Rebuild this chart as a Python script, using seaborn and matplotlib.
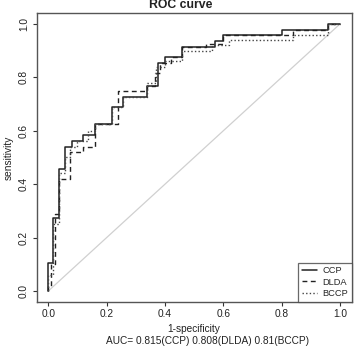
import numpy as np
import pandas as pd
import matplotlib
matplotlib.use("Agg")
import matplotlib.pyplot as plt
import seaborn as sns
from matplotlib.lines import Line2D

# ROC step corner points (false positive rate, true positive rate)
ccp_fpr = [0.0, 0.0, 0.017, 0.037, 0.057, 0.08, 0.12, 0.16, 0.217, 0.257, 0.337, 0.377, 0.40, 0.457, 0.571, 0.60, 0.80, 0.96, 1.0]
ccp_tpr = [0.0, 0.104, 0.272, 0.456, 0.54, 0.563, 0.584, 0.624, 0.688, 0.728, 0.769, 0.855, 0.875, 0.915, 0.937, 0.959, 0.978, 1.0, 1.0]

dlda_fpr = [0.0, 0.0, 0.01, 0.023, 0.037, 0.074, 0.12, 0.16, 0.24, 0.337, 0.366, 0.383, 0.42, 0.46, 0.54, 0.60, 0.84, 0.96, 1.0]
dlda_tpr = [0.0, 0.02, 0.10, 0.29, 0.42, 0.522, 0.54, 0.624, 0.749, 0.769, 0.815, 0.855, 0.875, 0.915, 0.925, 0.959, 0.978, 1.0, 1.0]

bccp_fpr = [0.0, 0.0, 0.017, 0.037, 0.057, 0.074, 0.10, 0.137, 0.16, 0.217, 0.257, 0.337, 0.37, 0.40, 0.46, 0.56, 0.62, 0.84, 0.96, 1.0]
bccp_tpr = [0.0, 0.06, 0.25, 0.44, 0.50, 0.54, 0.56, 0.60, 0.624, 0.688, 0.728, 0.78, 0.84, 0.86, 0.90, 0.92, 0.94, 0.96, 1.0, 1.0]

series_names = ["CCP", "DLDA", "BCCP"]
auc_values = ["0.815", "0.808", "0.81"]
tick_values = [0.0, 0.2, 0.4, 0.6, 0.8, 1.0]
tick_labels = ["0.0", "0.2", "0.4", "0.6", "0.8", "1.0"]

sns.set_style("ticks")
plt.rcParams["font.family"] = ["Liberation Sans", "DejaVu Sans"]

fig = plt.figure(figsize=(3.54, 3.48), dpi=100)
ax = fig.add_axes([0.1034, 0.133, 0.9935 - 0.1034, 0.962 - 0.133])

# diagonal reference
diag = pd.DataFrame({"x": [0.0, 1.0], "y": [0.0, 1.0]})
sns.lineplot(data=diag, x="x", y="y", ax=ax, color="#d0d0d0", linewidth=0.9,
             estimator=None, sort=False)

styles = {
    "CCP": dict(linestyle="-", color="#222222", linewidth=1.1),
    "DLDA": dict(linestyle=(0, (3.5, 2.5)), color="#222222", linewidth=1.0),
    "BCCP": dict(linestyle=(0, (1, 1.6)), color="#444444", linewidth=1.0),
}
data = {
    "CCP": (ccp_fpr, ccp_tpr),
    "DLDA": (dlda_fpr, dlda_tpr),
    "BCCP": (bccp_fpr, bccp_tpr),
}
for name in series_names:
    fpr, tpr = data[name]
    df = pd.DataFrame({"fpr": fpr, "tpr": tpr})
    sns.lineplot(data=df, x="fpr", y="tpr", ax=ax, estimator=None, sort=False,
                 drawstyle="steps-post", **styles[name])

ax.set_xlim(-0.04, 1.04)
ax.set_ylim(-0.04, 1.04)
ax.set_xticks(tick_values)
ax.set_xticklabels(tick_labels)
ax.set_yticks(tick_values)
ax.set_yticklabels(tick_labels, rotation=90, va="center")
ax.tick_params(axis="both", direction="out", length=3, width=0.8, color="#333333",
               labelsize=7.3, pad=2.5, labelcolor="#222222")
for sp in ax.spines.values():
    sp.set_visible(True)
    sp.set_color("#555555")
    sp.set_linewidth(1.0)

ax.set_xlabel("1-specificity", fontsize=7.3, labelpad=3, color="#222222")
ax.set_ylabel("sensitivity", fontsize=7.3, labelpad=4, color="#222222")

handles = [Line2D([], [], **styles[n]) for n in series_names]
leg = ax.legend(handles, series_names, loc="lower right", fontsize=6.7,
                frameon=True, fancybox=False, borderaxespad=0.0,
                handlelength=1.6, handletextpad=0.6, borderpad=0.4,
                labelspacing=0.25)
leg.get_frame().set_edgecolor("#444444")
leg.get_frame().set_linewidth(0.9)

fig.text(181 / 354, 1 - 8.5 / 348, "ROC curve", ha="center", va="baseline",
         fontsize=8.8, fontweight="bold", color="#222222")
auc_text = "AUC= " + " ".join(f"{v}({n})" for v, n in zip(auc_values, series_names))
fig.text(207 / 354, 1 - 344.5 / 348, auc_text, ha="center", va="baseline",
         fontsize=7.3, color="#222222")

fig.savefig("out.png", dpi=100)
